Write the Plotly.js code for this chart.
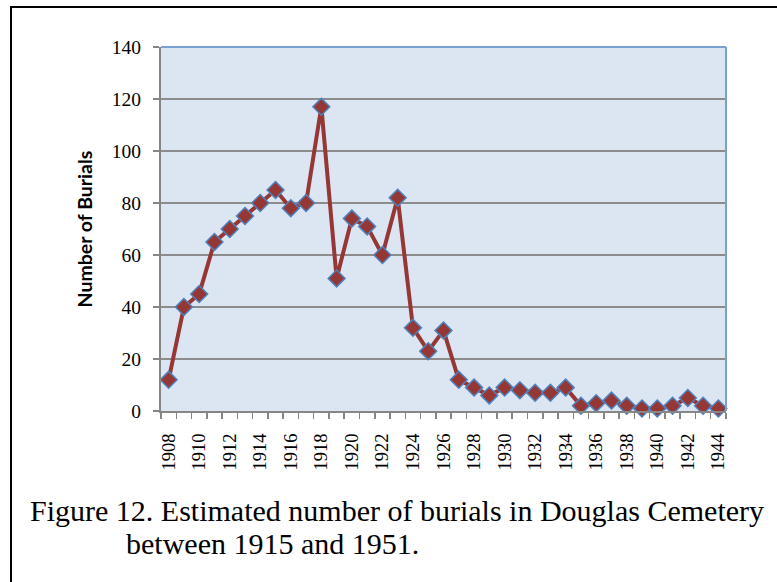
<!DOCTYPE html>
<html>
<head>
<meta charset="utf-8">
<script src="https://cdn.plot.ly/plotly-3.0.1.min.js"></script>
<style>
  html, body { margin: 0; padding: 0; background: #fff; }
  #wrap { position: relative; width: 777px; height: 582px; overflow: hidden; }
  #chart { position: absolute; left: 0; top: 0; width: 777px; height: 582px; }
  #frame { position: absolute; left: 10px; top: 6px; width: 900px; height: 700px;
           border-left: 2px solid #000; border-top: 2px solid #000; pointer-events: none; }
</style>
</head>
<body>
<div id="wrap">
  <div id="chart"></div>
  <div id="frame"></div>
</div>
<script>
const years = [1908,1909,1910,1911,1912,1913,1914,1915,1916,1917,1918,1919,1920,1921,1922,1923,1924,1925,1926,1927,1928,1929,1930,1931,1932,1933,1934,1935,1936,1937,1938,1939,1940,1941,1942,1943,1944];
const burials = [12,40,45,65,70,75,80,85,78,80,117,51,74,71,60,82,32,23,31,12,9,6,9,8,7,7,9,2,3,4,2,1,1,2,5,2,1];
const yTicks = [0,20,40,60,80,100,120,140];
const yTitle = 'Number of Burials';
const captionLine1 = 'Figure 12. Estimated number of burials in Douglas Cemetery';
const captionLine2 = 'between 1915 and 1951.';

const L = 161, R = 726, T = 47, B = 411, W = 777, H = 582;
const px = x => (x - L) / (R - L);
const py = y => (B - y) / (B - T);
const labelYears = years.filter((y, i) => i % 2 === 0);

const trace = {
  x: years, y: burials, type: 'scatter', mode: 'lines+markers',
  line: { color: '#953735', width: 4 },
  marker: { symbol: 'diamond', size: 13, color: '#953735', line: { color: '#4f81bd', width: 1.5 } },
  hoverinfo: 'x+y', showlegend: false, cliponaxis: false
};

const layout = {
  width: W, height: H,
  margin: { l: L, r: W - R, t: T, b: H - B, pad: 0 },
  paper_bgcolor: '#ffffff',
  plot_bgcolor: '#dce6f2',
  showlegend: false,
  xaxis: {
    range: [1907.5, 1944.5],
    tickmode: 'array', tickvals: labelYears, ticktext: labelYears.map(String),
    tickangle: -90, ticks: '', showgrid: false, zeroline: false,
    showline: true, linecolor: '#868686', linewidth: 2,
    ticklabelstandoff: 13,
    tickfont: { family: 'Liberation Serif', size: 18.5, color: '#000' },
    minor: { tick0: 1907.5, dtick: 1, ticks: 'outside', ticklen: 6, tickwidth: 1.5, tickcolor: '#868686', showgrid: false },
    fixedrange: true
  },
  yaxis: {
    range: [0, 140], tickmode: 'array', tickvals: yTicks,
    ticks: 'outside', ticklen: 6, tickwidth: 1.5, tickcolor: '#868686',
    showgrid: true, gridcolor: '#8c8c8c', gridwidth: 1.5,
    zeroline: false, showline: true, linecolor: '#868686', linewidth: 2,
    ticklabelstandoff: 8,
    tickfont: { family: 'Liberation Serif', size: 19.5, color: '#000' },
    title: { text: yTitle, font: { family: 'Lato', size: 19.5, color: '#000', weight: 'bold' }, standoff: 14 },
    fixedrange: true
  },
  shapes: [
    { type: 'line', xref: 'paper', yref: 'paper', x0: 0, x1: 1, y0: 1, y1: 1, line: { color: '#7a9fd1', width: 2 } },
    { type: 'line', xref: 'paper', yref: 'paper', x0: 1, x1: 1, y0: 0, y1: 1, line: { color: '#7a9fd1', width: 2 } }
  ],
  annotations: [
    { text: captionLine1, xref: 'paper', yref: 'paper', x: px(28), y: py(510), xanchor: 'left', yanchor: 'middle',
      showarrow: false, font: { family: 'Liberation Serif', size: 30, color: '#000' } },
    { text: captionLine2, xref: 'paper', yref: 'paper', x: px(124), y: py(543), xanchor: 'left', yanchor: 'middle',
      showarrow: false, font: { family: 'Liberation Serif', size: 30, color: '#000' } }
  ]
};

Plotly.newPlot('chart', [trace], layout, { displayModeBar: false, staticPlot: true });
</script>
</body>
</html>
